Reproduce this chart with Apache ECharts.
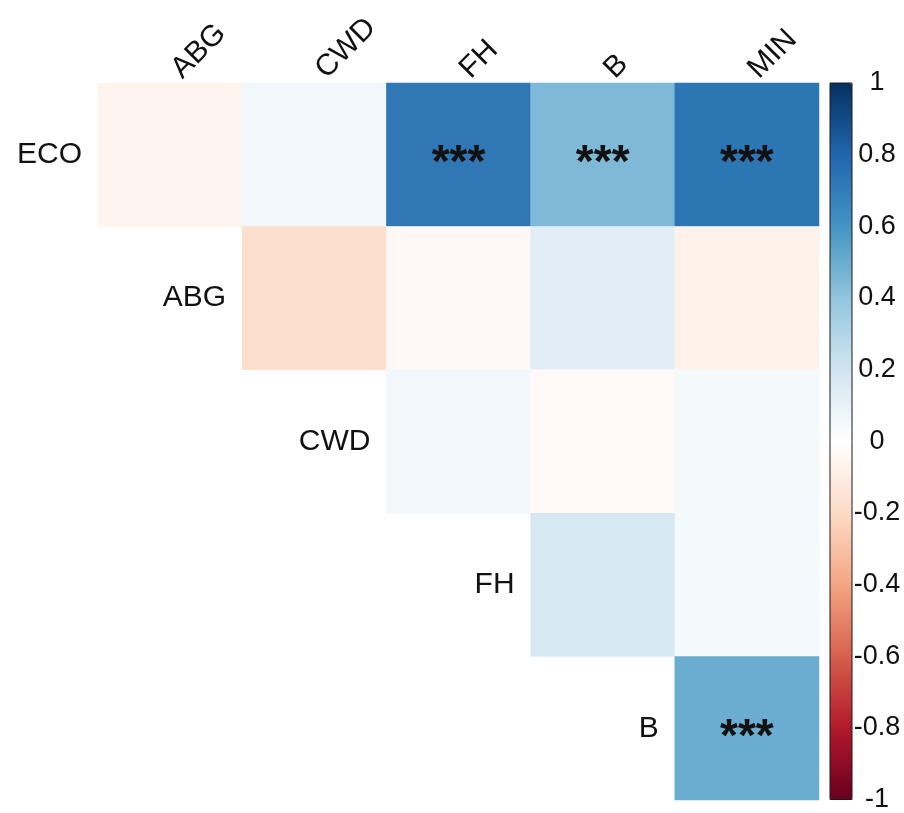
<!DOCTYPE html>
<html>
<head>
<meta charset="utf-8">
<title>Correlation matrix</title>
<script src="https://cdn.jsdelivr.net/npm/echarts@6/dist/echarts.min.js"></script>
<style>
  html, body { margin: 0; padding: 0; background: #ffffff; }
  #chart { width: 904px; height: 813px; }
</style>
</head>
<body>
<div id="chart"></div>
<script>
// Variables across the top and down the side (upper triangle only)
const colNames = ['ABG', 'CWD', 'FH', 'B', 'MIN'];
const rowNames = ['ECO', 'ABG', 'CWD', 'FH', 'B'];

// Correlation coefficients, one array per row, starting at the first column right of the diagonal
const ecoRow = [-0.06, 0.06, 0.72, 0.45, 0.73];
const abgRow = [-0.18, -0.04, 0.13, -0.07];
const cwdRow = [0.06, -0.03, 0.05];
const fhRow  = [0.18, 0.05];
const bRow   = [0.50];

// Significance marks for the same cells
const ecoSig = ['', '', '***', '***', '***'];
const abgSig = ['', '', '', ''];
const cwdSig = ['', '', ''];
const fhSig  = ['', ''];
const bSig   = ['***'];

// Colour bar ticks
const barTicks = [1, 0.8, 0.6, 0.4, 0.2, 0, -0.2, -0.4, -0.6, -0.8, -1];

// RdBu diverging palette, -1 → 1
const rdbu = ['#67001F', '#B2182B', '#D6604D', '#F4A582', '#FDDBC7', '#FFFFFF',
              '#D1E5F0', '#92C5DE', '#4393C3', '#2166AC', '#053061'];

const rows = [ecoRow, abgRow, cwdRow, fhRow, bRow];
const sigs = [ecoSig, abgSig, cwdSig, fhSig, bSig];

const cells = [];
const cellSig = [];
rows.forEach((vals, r) => {
  vals.forEach((v, k) => {
    cells.push([r + k, r, v]);
    cellSig.push(sigs[r][k]);
  });
});

// Row names drawn on the diagonal, in the column of the same name (ECO sits on the y axis)
const diagLabels = rowNames.slice(1).map((name, i) => [i, i + 1, name]);

const FONT = 'Liberation Sans, Arial, sans-serif';

const chart = echarts.init(document.getElementById('chart'), null, { renderer: 'canvas' });

chart.setOption({
  backgroundColor: '#ffffff',
  animation: false,
  grid: [
    { left: 98, top: 83, width: 721, height: 717 },
    { left: 830, top: 83, width: 22, height: 717, show: true, z: 10,
      borderColor: '#1a1a1a', borderWidth: 1, backgroundColor: 'transparent' }
  ],
  xAxis: [
    {
      type: 'category', data: colNames, position: 'top', gridIndex: 0,
      axisLine: { show: false }, axisTick: { show: false }, splitLine: { show: false },
      axisLabel: { rotate: -45, margin: 3, padding: [0, 0, 0, 9], fontSize: 30, color: '#111', fontFamily: FONT }
    },
    { type: 'value', gridIndex: 1, show: false, min: 0, max: 1 }
  ],
  yAxis: [
    {
      type: 'category', data: rowNames, inverse: true, gridIndex: 0,
      axisLine: { show: false }, axisTick: { show: false }, splitLine: { show: false },
      axisLabel: {
        margin: 16, fontSize: 30, color: '#111', fontFamily: FONT,
        formatter: v => (v === 'ECO' ? v : '')
      }
    },
    {
      type: 'value', gridIndex: 1, position: 'right', min: -1, max: 1, interval: 0.2,
      axisLine: { show: false }, splitLine: { show: false },
      axisTick: { show: true, length: 5, lineStyle: { color: '#333', width: 1 } },
      axisLabel: {
        margin: 25, align: 'center', fontSize: 27, color: '#111', fontFamily: FONT,
        formatter: v => {
          const t = barTicks.find(b => Math.abs(b - v) < 1e-6);
          return t === undefined ? '' : String(t);
        }
      }
    }
  ],
  visualMap: {
    type: 'continuous', min: -1, max: 1, seriesIndex: 0,
    calculable: false, orient: 'vertical', left: 830, top: 83,
    itemWidth: 22, itemHeight: 717, padding: 0, text: null, showLabel: false,
    inRange: { color: rdbu }
  },
  series: [
    {
      type: 'heatmap', xAxisIndex: 0, yAxisIndex: 0, data: cells,
      itemStyle: { borderWidth: 0 },
      label: {
        show: true, fontSize: 46, fontWeight: 'bold', color: '#111', fontFamily: FONT, offset: [0, 10],
        formatter: p => cellSig[p.dataIndex]
      },
      emphasis: { disabled: true }
    },
    {
      type: 'custom', xAxisIndex: 0, yAxisIndex: 0, data: diagLabels,
      renderItem: (params, api) => {
        const p = api.coord([api.value(0), api.value(1)]);
        const s = api.size([1, 1]);
        return {
          type: 'text',
          style: {
            text: diagLabels[params.dataIndex][2],
            x: p[0] + s[0] / 2 - 16, y: p[1],
            align: 'right', verticalAlign: 'middle',
            font: '30px ' + FONT, fill: '#111'
          }
        };
      }
    }
  ]
});
</script>
</body>
</html>
